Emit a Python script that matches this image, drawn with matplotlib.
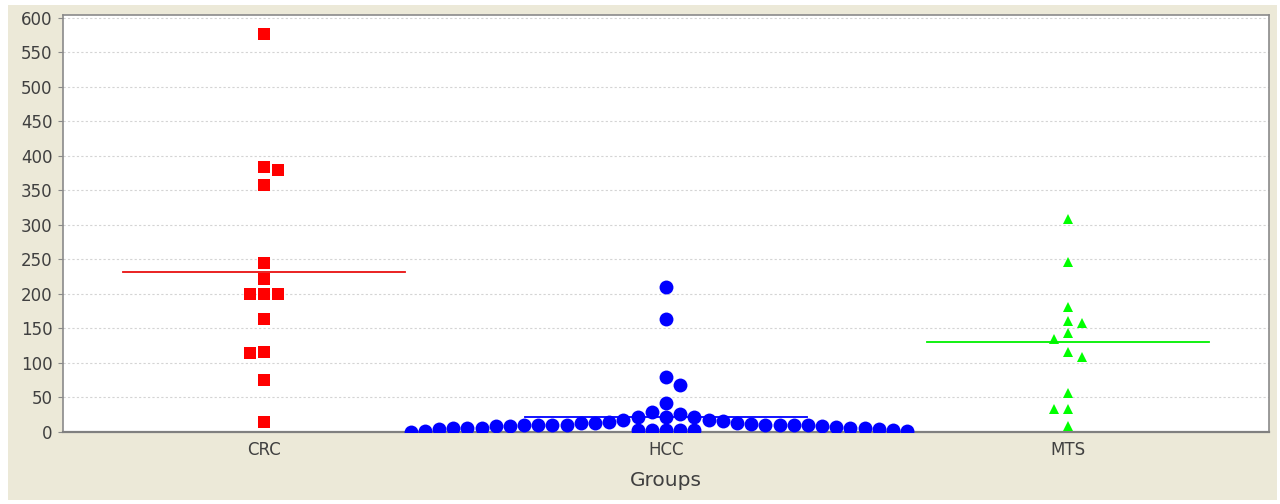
import numpy as np
import matplotlib
matplotlib.use("Agg")
import matplotlib.pyplot as plt
from matplotlib.patches import Rectangle

# ---- data ----
groups = ["CRC", "HCC", "MTS"]
crc = [577, 384, 380, 357, 245, 221, 200, 200, 200, 163, 116, 114, 75, 14]
hcc = [210, 163, 79, 68, 41, 28, 25.5, 22, 21.8, 21.5, 17.2, 17.0,
       2.5, 2.5, 3.0, 2.5, 3.0,
       14.5, 15, 12.5, 13, 12, 11.5, 10, 10, 10, 10, 9.5, 9.5, 9, 9,
       8.3, 8, 8, 7, 5.5, 5.5, 5, 5, 5, 4.5, 4, 2, 1, 0.5, 0]
mts = [308, 246, 181, 161, 158, 143, 134, 116, 109, 56, 33, 33, 8]
yticks = list(range(0, 601, 50))
xlabel = "Groups"

# ---- styling / layout constants ----
W, H = 1280, 504
BEIGE = "#ECE9D8"
TEXT = "#404040"
colors = ["#FF0000", "#0000FF", "#00FF00"]
line_colors = ["#E81010", "#0000FF", "#00F000"]
markers = ["s", "o", "^"]
msizes = [8.6, 10.0, 7.6]
SLOT = 0.0353      # horizontal step between neighbouring symbols (data units)
GAP = 17.5         # vertical distance below which symbols in a slot collide
HALF = 0.35        # half width of the mean line


def swarm_slots(values, gap):
    """Place each value in the nearest free horizontal slot (center first)."""
    placed, slots = [], []
    n_left = n_right = 0
    for v in values:
        d, chosen = 0, None
        while chosen is None:
            if d == 0:
                cands = [0]
            else:
                cands = [-d, d] if n_left < n_right else [d, -d]
            for k in cands:
                if all(not (s == k and abs(w - v) < gap) for s, w in placed):
                    chosen = k
                    break
            d += 1
        placed.append((chosen, v))
        slots.append(chosen)
        if chosen < 0:
            n_left += 1
        elif chosen > 0:
            n_right += 1
    return np.array(slots)


fig = plt.figure(figsize=(W / 100, H / 100), dpi=100)
fig.patch.set_facecolor("white")
bg = fig.add_axes([0, 0, 1, 1], zorder=-10)
bg.set_axis_off()
bg.set_xlim(0, W)
bg.set_ylim(H, 0)
bg.add_patch(Rectangle((8, 5), 1269, 495, facecolor=BEIGE, edgecolor="none"))

ax = fig.add_axes([63 / W, (H - 431.7) / H, (1269 - 63) / W, (431.7 - 15) / H])
ax.set_facecolor("white")

for i, vals in enumerate([crc, hcc, mts]):
    vals = np.asarray(vals, dtype=float)
    slots = swarm_slots(vals, GAP)
    ax.plot(i + slots * SLOT, vals, linestyle="none", marker=markers[i],
            markersize=msizes[i], markerfacecolor=colors[i],
            markeredgewidth=0, zorder=3)
    m = vals.mean()
    ax.plot([i - HALF, i + HALF], [m, m], color=line_colors[i], linewidth=1.3,
            zorder=4)

ax.set_xlim(-0.5, 2.5)
ax.set_ylim(0, 604)
ax.set_xticks(range(len(groups)))
ax.set_xticklabels(groups)
ax.set_yticks(yticks)
ax.set_yticklabels([str(t) for t in yticks])

ax.yaxis.grid(True, color="#d4d4d4", linestyle=(0, (2, 2)), linewidth=0.8)
ax.set_axisbelow(True)

for side in ["left", "right", "top"]:
    ax.spines[side].set_color("#8a8a8a")
    ax.spines[side].set_linewidth(1.2)
ax.spines["bottom"].set_color("#808080")
ax.spines["bottom"].set_linewidth(1.6)

ax.tick_params(axis="y", length=3.6, width=0.8, color="#8a8a8a", pad=3.8,
               labelsize=12, labelcolor=TEXT)
ax.tick_params(axis="x", length=0, pad=7.0, labelsize=12, labelcolor=TEXT)
ax.set_xlabel(xlabel, fontsize=14.5, color=TEXT, labelpad=8.5)

fig.savefig("out.png", dpi=100, facecolor=fig.get_facecolor())
